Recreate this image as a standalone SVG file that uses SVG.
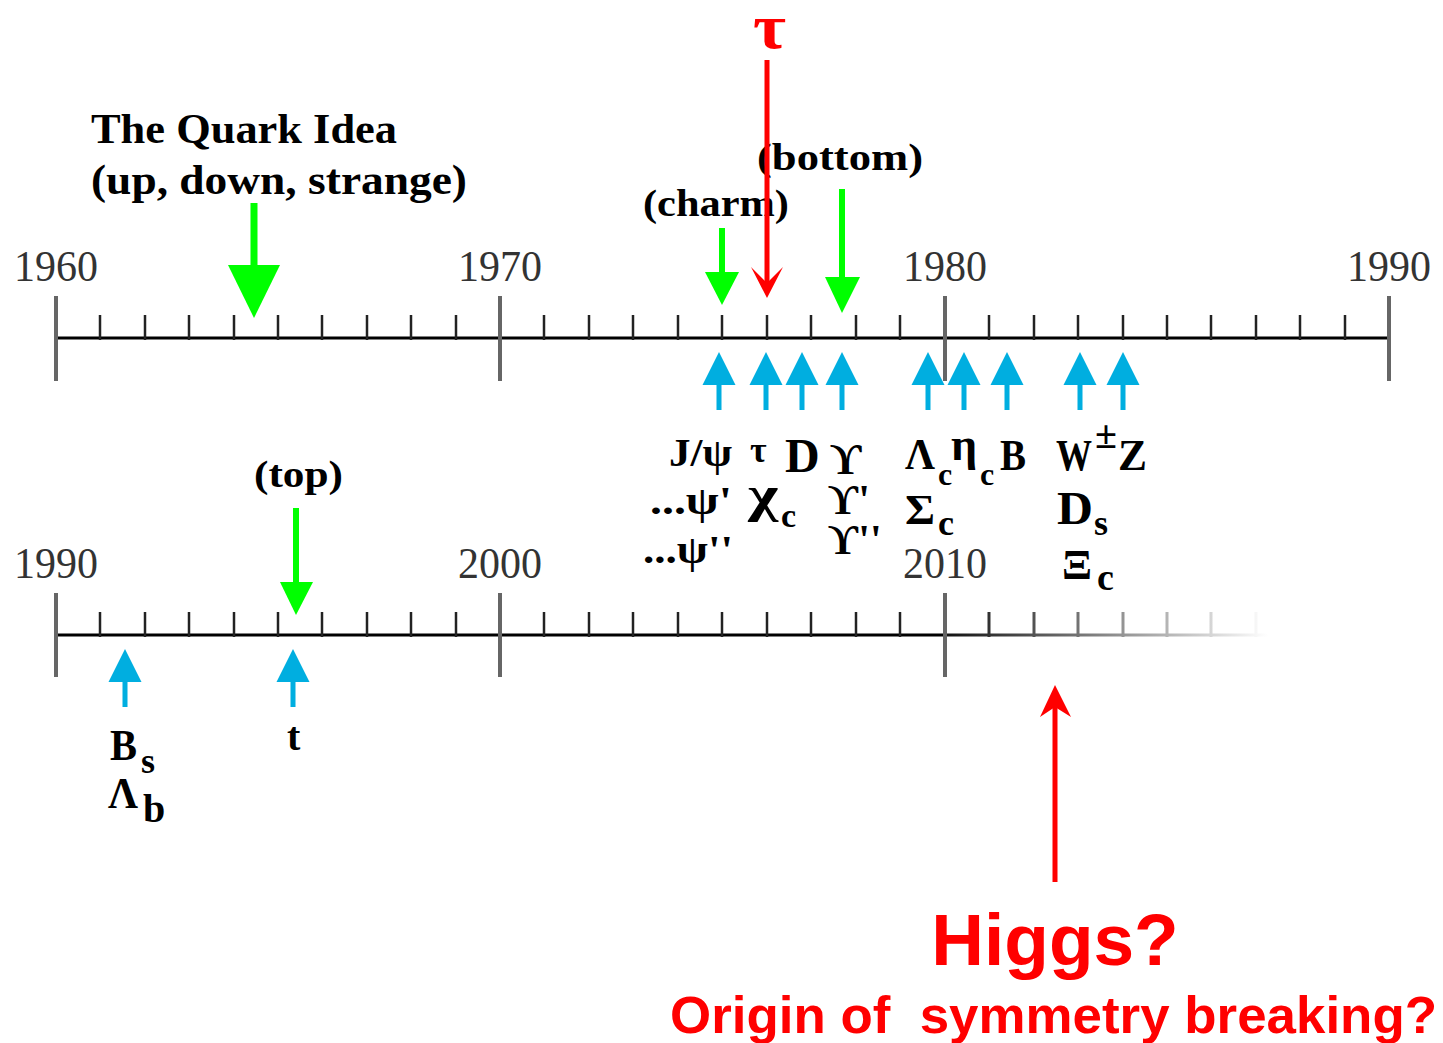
<svg xmlns="http://www.w3.org/2000/svg" width="1443" height="1043" viewBox="0 0 1443 1043">
<style>
.yr{font-family:"Liberation Serif","DejaVu Serif",serif;font-size:44px;fill:#333}
.lb{font-family:"Liberation Serif","DejaVu Serif",serif;font-weight:bold;fill:#000}
.gk{font-family:"Liberation Serif","DejaVu Serif",serif;font-weight:bold;fill:#000}
.axis{stroke:#000;stroke-width:3;fill:none}
.major{stroke:#666;stroke-width:4}
.minor{stroke:#222;stroke-width:2.5}
.green{fill:#00ff00}
.blue{fill:#00aee0}
.red{fill:#ff0000}
.sans{font-family:"Liberation Sans",Arial,sans-serif;font-weight:bold;fill:#ff0000}
</style>
<defs>
<linearGradient id="fade" gradientUnits="userSpaceOnUse" x1="945" y1="0" x2="1268" y2="0">
<stop offset="0" stop-color="#111"/>
<stop offset="1" stop-color="#fff"/>
</linearGradient>
<g id="bluearrow">
<rect x="-2.5" y="30" width="5" height="28"/>
<polygon points="0,0 -16.5,33 16.5,33"/>
</g>
</defs>

<g id="timeline-1960-1990">
<line class="axis" x1="56" y1="338" x2="1389" y2="338"/>
<g class="major">
<line x1="56" y1="296" x2="56" y2="381"/>
<line x1="500" y1="296" x2="500" y2="381"/>
<line x1="945" y1="296" x2="945" y2="381"/>
<line x1="1389" y1="296" x2="1389" y2="381"/>
</g>
<g class="minor">
<line x1="100" y1="315" x2="100" y2="340"/><line x1="145" y1="315" x2="145" y2="340"/><line x1="189" y1="315" x2="189" y2="340"/><line x1="234" y1="315" x2="234" y2="340"/><line x1="278" y1="315" x2="278" y2="340"/><line x1="322" y1="315" x2="322" y2="340"/><line x1="367" y1="315" x2="367" y2="340"/><line x1="411" y1="315" x2="411" y2="340"/><line x1="456" y1="315" x2="456" y2="340"/>
<line x1="544" y1="315" x2="544" y2="340"/><line x1="589" y1="315" x2="589" y2="340"/><line x1="633" y1="315" x2="633" y2="340"/><line x1="678" y1="315" x2="678" y2="340"/><line x1="722" y1="315" x2="722" y2="340"/><line x1="767" y1="315" x2="767" y2="340"/><line x1="811" y1="315" x2="811" y2="340"/><line x1="856" y1="315" x2="856" y2="340"/><line x1="900" y1="315" x2="900" y2="340"/>
<line x1="989" y1="315" x2="989" y2="340"/><line x1="1034" y1="315" x2="1034" y2="340"/><line x1="1078" y1="315" x2="1078" y2="340"/><line x1="1123" y1="315" x2="1123" y2="340"/><line x1="1167" y1="315" x2="1167" y2="340"/><line x1="1211" y1="315" x2="1211" y2="340"/><line x1="1256" y1="315" x2="1256" y2="340"/><line x1="1300" y1="315" x2="1300" y2="340"/><line x1="1345" y1="315" x2="1345" y2="340"/>
</g>
<text class="yr" x="14" y="281" textLength="84" lengthAdjust="spacingAndGlyphs">1960</text>
<text class="yr" x="458" y="281" textLength="84" lengthAdjust="spacingAndGlyphs">1970</text>
<text class="yr" x="903" y="281" textLength="84" lengthAdjust="spacingAndGlyphs">1980</text>
<text class="yr" x="1347" y="281" textLength="84" lengthAdjust="spacingAndGlyphs">1990</text>
</g>

<g id="timeline-1990-2020">
<line class="axis" x1="56" y1="635" x2="945" y2="635"/>
<line x1="945" y1="635" x2="1268" y2="635" stroke="url(#fade)" stroke-width="3"/>
<g class="major">
<line x1="56" y1="593" x2="56" y2="677"/>
<line x1="500" y1="593" x2="500" y2="677"/>
<line x1="945" y1="593" x2="945" y2="677"/>
</g>
<g class="minor">
<line x1="100" y1="612" x2="100" y2="637"/><line x1="145" y1="612" x2="145" y2="637"/><line x1="189" y1="612" x2="189" y2="637"/><line x1="234" y1="612" x2="234" y2="637"/><line x1="278" y1="612" x2="278" y2="637"/><line x1="322" y1="612" x2="322" y2="637"/><line x1="367" y1="612" x2="367" y2="637"/><line x1="411" y1="612" x2="411" y2="637"/><line x1="456" y1="612" x2="456" y2="637"/>
<line x1="544" y1="612" x2="544" y2="637"/><line x1="589" y1="612" x2="589" y2="637"/><line x1="633" y1="612" x2="633" y2="637"/><line x1="678" y1="612" x2="678" y2="637"/><line x1="722" y1="612" x2="722" y2="637"/><line x1="767" y1="612" x2="767" y2="637"/><line x1="811" y1="612" x2="811" y2="637"/><line x1="856" y1="612" x2="856" y2="637"/><line x1="900" y1="612" x2="900" y2="637"/>
</g>
<g stroke="url(#fade)" stroke-width="3">
<line x1="989" y1="612" x2="989" y2="637"/><line x1="1034" y1="612" x2="1034" y2="637"/><line x1="1078" y1="612" x2="1078" y2="637"/><line x1="1123" y1="612" x2="1123" y2="637"/><line x1="1167" y1="612" x2="1167" y2="637"/><line x1="1211" y1="612" x2="1211" y2="637"/><line x1="1256" y1="612" x2="1256" y2="637"/>
</g>
<text class="yr" x="14" y="578" textLength="84" lengthAdjust="spacingAndGlyphs">1990</text>
<text class="yr" x="458" y="578" textLength="84" lengthAdjust="spacingAndGlyphs">2000</text>
<text class="yr" x="903" y="578" textLength="84" lengthAdjust="spacingAndGlyphs">2010</text>
</g>

<g id="label-quark-idea">
<text class="lb" x="91" y="143" font-size="42" textLength="306" lengthAdjust="spacingAndGlyphs">The Quark Idea</text>
<text class="lb" x="91" y="194" font-size="42" textLength="376" lengthAdjust="spacingAndGlyphs">(up, down, strange)</text>
</g>
<g id="label-charm"><text class="lb" x="643" y="216" font-size="38" textLength="146" lengthAdjust="spacingAndGlyphs">(charm)</text></g>
<g id="label-bottom"><text class="lb" x="757" y="170" font-size="38" textLength="166" lengthAdjust="spacingAndGlyphs">(bottom)</text></g>
<g id="label-top"><text class="lb" x="254" y="487" font-size="38" textLength="89" lengthAdjust="spacingAndGlyphs">(top)</text></g>
<g id="label-tau-red"><text x="753" y="48" font-family="Liberation Serif, DejaVu Serif, serif" font-weight="bold" font-size="64" fill="#ff0000" textLength="33" lengthAdjust="spacingAndGlyphs">τ</text></g>

<g id="particles-top">
<text class="gk" x="669" y="466" font-size="40" textLength="63" lengthAdjust="spacingAndGlyphs">J/ψ</text>
<text class="gk" x="750" y="462" font-size="36">τ</text>
<text class="gk" x="785" y="472" font-size="48">D</text>
<text class="gk" x="846" y="474" font-size="44" text-anchor="middle">ϒ</text>
<text class="gk" x="650" y="514" font-size="40" textLength="82" lengthAdjust="spacingAndGlyphs">...ψ'</text>
<text class="gk" x="643" y="563" font-size="40" textLength="90" lengthAdjust="spacingAndGlyphs">...ψ''</text>
<text class="gk" x="748" y="511" font-size="50" textLength="30" lengthAdjust="spacingAndGlyphs">χ</text>
<text class="gk" x="781" y="527" font-size="34">c</text>
<text class="gk" x="828" y="514" font-size="42">ϒ'</text>
<text class="gk" x="828" y="554" font-size="42">ϒ''</text>
<text class="gk" x="905" y="469" font-size="44" textLength="30" lengthAdjust="spacingAndGlyphs">Λ</text>
<text class="gk" x="938" y="485" font-size="32">c</text>
<text class="gk" x="951" y="460" font-size="46">η</text>
<text class="gk" x="980" y="485" font-size="32">c</text>
<text class="gk" x="1000" y="470" font-size="44" textLength="26" lengthAdjust="spacingAndGlyphs">B</text>
<text class="gk" x="905" y="524" font-size="42" textLength="30" lengthAdjust="spacingAndGlyphs">Σ</text>
<text class="gk" x="938" y="535" font-size="36">c</text>
<text class="gk" x="1056" y="470" font-size="44" textLength="36" lengthAdjust="spacingAndGlyphs">W</text>
<text class="gk" x="1095" y="448" font-size="40">±</text>
<text class="gk" x="1118" y="470" font-size="44" textLength="29" lengthAdjust="spacingAndGlyphs">Z</text>
<text class="gk" x="1057" y="524" font-size="46" textLength="36" lengthAdjust="spacingAndGlyphs">D</text>
<text class="gk" x="1094" y="535" font-size="36">s</text>
<text class="gk" x="1062" y="579" font-size="42" textLength="30" lengthAdjust="spacingAndGlyphs">Ξ</text>
<text class="gk" x="1097" y="590" font-size="38">c</text>
</g>

<g id="particles-bottom">
<text class="gk" x="110" y="760" font-size="44" textLength="27" lengthAdjust="spacingAndGlyphs">B</text>
<text class="gk" x="141" y="773" font-size="36">s</text>
<text class="gk" x="108" y="808" font-size="44" textLength="30" lengthAdjust="spacingAndGlyphs">Λ</text>
<text class="gk" x="143" y="822" font-size="40">b</text>
<text class="gk" x="287" y="750" font-size="40">t</text>
</g>

<g id="higgs">
<text class="sans" x="1055" y="965" font-size="73" text-anchor="middle">Higgs?</text>
<text class="sans" x="670" y="1033" font-size="52" textLength="767" lengthAdjust="spacingAndGlyphs" xml:space="preserve">Origin of  symmetry breaking?</text>
</g>

<g id="connectors">
<g class="green">
<rect x="250.5" y="203" width="7" height="66"/><polygon points="228,265 280,265 254,318"/>
<rect x="719" y="228" width="6" height="47"/><polygon points="705,272 739,272 722,305"/>
<rect x="839" y="189" width="6" height="91"/><polygon points="825,277 860,277 842,313"/>
<rect x="293" y="508" width="6" height="77"/><polygon points="280,582 313,582 296,615"/>
</g>
<g class="red">
<rect x="764.5" y="60" width="5" height="226"/><polygon points="767,298 751,267 767,283 783,267"/>
<rect x="1052.5" y="705" width="5" height="177"/><polygon points="1055,685 1040,717 1055,707 1071,717"/>
</g>
<g class="blue">
<use href="#bluearrow" x="719" y="352"/>
<use href="#bluearrow" x="766" y="352"/>
<use href="#bluearrow" x="802" y="352"/>
<use href="#bluearrow" x="842" y="352"/>
<use href="#bluearrow" x="928" y="352"/>
<use href="#bluearrow" x="964" y="352"/>
<use href="#bluearrow" x="1007" y="352"/>
<use href="#bluearrow" x="1080" y="352"/>
<use href="#bluearrow" x="1123" y="352"/>
<use href="#bluearrow" x="125" y="649"/>
<use href="#bluearrow" x="293" y="649"/>
</g>
</g>
</svg>
